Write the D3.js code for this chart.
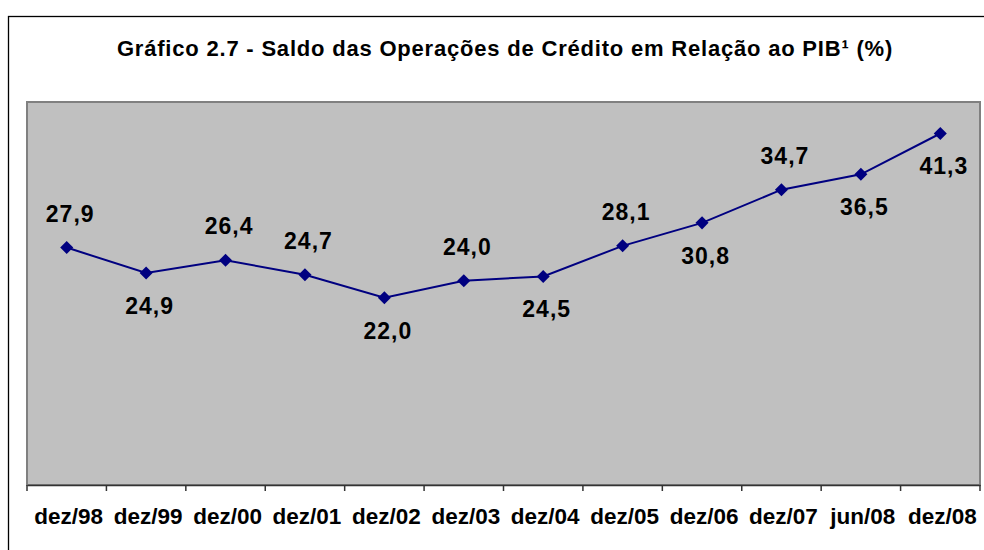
<!DOCTYPE html>
<html>
<head>
<meta charset="utf-8">
<script src="https://cdn.jsdelivr.net/npm/d3@7"></script>
<style>
html,body{margin:0;padding:0;background:#fff;}
svg{display:block;}
text{font-family:"Liberation Sans",Arial,sans-serif;font-weight:bold;fill:#000;}
</style>
</head>
<body>
<svg id="chart" width="984" height="550"></svg>
<script>
const title = "Gráfico 2.7 - Saldo das Operações de Crédito em Relação ao PIB¹ (%)";
const categories = ["dez/98","dez/99","dez/00","dez/01","dez/02","dez/03","dez/04","dez/05","dez/06","dez/07","jun/08","dez/08"];
const values = [27.9, 24.9, 26.4, 24.7, 22.0, 24.0, 24.5, 28.1, 30.8, 34.7, 36.5, 41.3];
const labelPos = ["above","below","above","above","below","above","below","above","below","above","below","below"];
const yDomain = [0, 45];

const svg = d3.select("#chart");
const plot = {left: 27, right: 980, top: 102, bottom: 485};

// outer frame
svg.append("rect").attr("x", 8.5).attr("y", 16.5).attr("width", 1000).attr("height", 1000)
  .attr("fill", "#fff").attr("stroke", "#000").attr("stroke-width", 1.3);

// title
svg.append("text").attr("x", 505).attr("y", 56).attr("text-anchor", "middle")
  .style("font-size", "22px").style("letter-spacing", "0.8px").text(title);

const x = d3.scaleBand().domain(categories).range([plot.left, plot.right]).padding(0);
const y = d3.scaleLinear().domain(yDomain).range([plot.bottom, plot.top]);

// plot area
svg.append("rect").attr("x", plot.left).attr("y", plot.top)
  .attr("width", plot.right - plot.left).attr("height", plot.bottom - plot.top)
  .attr("fill", "#C0C0C0").attr("stroke", "#808080").attr("stroke-width", 2);

// x axis
const axis = d3.axisBottom(x).tickSize(0).tickPadding(0);
const gx = svg.append("g").attr("transform", `translate(0,${plot.bottom})`).call(axis);
gx.select(".domain").attr("stroke", "#333").attr("stroke-width", 1.5);
gx.selectAll(".tick text").attr("dy", 0).attr("y", 39).attr("dx", 2)
  .style("font-size", "22.5px").style("font-family", '"Liberation Sans",Arial,sans-serif').style("font-weight", "bold").attr("fill", "#000");
// boundary ticks
const bounds = categories.map(c => x(c)).concat([plot.right]);
svg.append("g").selectAll("line").data(bounds).join("line")
  .attr("x1", d => d).attr("x2", d => d)
  .attr("y1", plot.bottom).attr("y2", plot.bottom + 6)
  .attr("stroke", "#333").attr("stroke-width", 1.5);

const cx = c => x(c) + x.bandwidth() / 2;

// line
const line = d3.line().x((d, i) => cx(categories[i])).y(d => y(d));
svg.append("path").datum(values).attr("d", line)
  .attr("fill", "none").attr("stroke", "#000080").attr("stroke-width", 2);

// markers
const sym = d3.symbol().type(d3.symbolSquare).size(85);
svg.append("g").selectAll("path").data(values).join("path")
  .attr("d", sym)
  .attr("transform", (d, i) => `translate(${cx(categories[i])},${y(d)}) rotate(45)`)
  .attr("fill", "#000080");

// labels
svg.append("g").selectAll("text").data(values).join("text")
  .attr("x", (d, i) => cx(categories[i]) + 3.5)
  .attr("y", (d, i) => y(d) + (labelPos[i] === "above" ? -26 : 41))
  .attr("text-anchor", "middle")
  .style("font-size", "23px").style("letter-spacing", "1px")
  .text(d => d.toFixed(1).replace(".", ","));
</script>
</body>
</html>
